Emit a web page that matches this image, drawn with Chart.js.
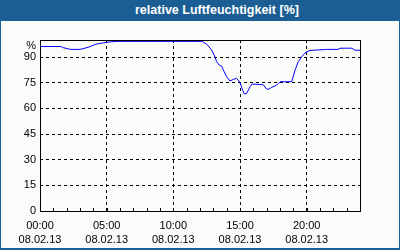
<!DOCTYPE html>
<html>
<head>
<meta charset="utf-8">
<script src="https://cdn.jsdelivr.net/npm/chart.js@4"></script>
<style>
  html, body { margin: 0; padding: 0; background: #ffffff; }
  #frame { position: absolute; left: 0; top: 0; width: 400px; height: 250px; background: #1b5e93; overflow: hidden; }
  #inner { position: absolute; left: 1px; top: 21px; width: 398px; height: 227px; background: #fafcfa; }
  #title { position: absolute; left: 135px; top: 3px; font: bold 12.5px "Liberation Sans", Arial, sans-serif; color: #ffffff; white-space: nowrap; line-height: 15px; }
  #c { position: absolute; left: 0; top: 0; }
</style>
</head>
<body>
<div id="frame">
  <div id="inner"></div>
  <div id="title">relative Luftfeuchtigkeit [%]</div>
  <canvas id="c" width="400" height="250"></canvas>
</div>
<script>
// time in hours since 00:00 on 08.02.13
const hours = [0, 1.58, 1.7, 2.3, 3.0, 3.6, 4.2, 4.95, 5.25, 5.85, 12.15, 12.5, 12.88, 13.13, 13.25, 13.45, 13.63, 13.75, 14.0, 14.25, 14.5, 14.75, 15.0, 15.2, 15.32, 15.5, 15.75, 15.9, 16.5, 16.75, 16.95, 17.12, 17.38, 17.75, 18.0, 18.88, 19.13, 19.37, 19.63, 19.88, 20.25, 21.5, 22.35, 22.5, 23.38, 23.63, 24.0];
const humidity = [96.2, 96.2, 95.6, 94.5, 94.5, 95.7, 97.6, 98.6, 98.9, 99.2, 99.2, 97.6, 94.1, 90.0, 87.3, 85.3, 84.7, 82.4, 78.5, 76.0, 77.0, 77.5, 75.2, 70.7, 68.4, 68.8, 72.6, 74.2, 74.0, 73.8, 71.7, 71.1, 72.3, 73.6, 75.6, 75.6, 82.4, 87.3, 90.2, 92.5, 93.9, 94.5, 94.5, 95.2, 95.2, 94.0, 94.0];

const xTickValues = [0, 5, 10, 15, 20];
const xTickTimes = ['00:00', '05:00', '10:00', '15:00', '20:00'];
const xTickDates = ['08.02.13', '08.02.13', '08.02.13', '08.02.13', '08.02.13'];
const yTickValues = [0, 15, 30, 45, 60, 75, 90, 100];
const yTickLabels = ['0', '15', '30', '45', '60', '75', '90', '%'];
const minorHours = [1,2,3,4,5,6,7,8,9,10,11,12,13,14,15,16,17,18,19,20,21,22,23];

const FONT = { family: '"Liberation Sans", Arial, sans-serif', size: 11, lineHeight: 1 };

const boxPlugin = {
  id: 'box',
  afterDraw(chart) {
    const ctx = chart.ctx, a = chart.chartArea, xs = chart.scales.x;
    ctx.save();
    ctx.strokeStyle = '#000000';
    ctx.lineWidth = 1;
    ctx.setLineDash([]);
    ctx.strokeRect(Math.round(a.left) + 0.5, Math.round(a.top) + 0.5, Math.round(a.right - a.left), Math.round(a.bottom - a.top));
    ctx.beginPath();
    minorHours.forEach(h => {
      const x = Math.round(xs.getPixelForValue(h)) + 0.5;
      ctx.moveTo(x, Math.round(a.bottom));
      ctx.lineTo(x, Math.round(a.bottom) - 3);
    });
    ctx.stroke();
    ctx.restore();
  }
};

new Chart(document.getElementById('c'), {
  type: 'line',
  data: {
    datasets: [{
      data: hours.map((h, i) => ({ x: h, y: humidity[i] })),
      borderColor: '#0000ff',
      borderWidth: 1,
      pointRadius: 0,
      tension: 0,
      fill: false
    }]
  },
  options: {
    responsive: false,
    animation: false,
    layout: { padding: { top: 40, right: 40, left: 0, bottom: 0 } },
    plugins: { legend: { display: false }, tooltip: { enabled: false }, title: { display: false } },
    scales: {
      x: {
        type: 'linear', min: 0, max: 24,
        afterBuildTicks: s => { s.ticks = xTickValues.map(v => ({ value: v })); },
        afterFit: s => { s.height = 39; },
        grid: {
          drawTicks: false,
          color: c => (c.tick && c.tick.value === 0) ? 'rgba(0,0,0,0)' : '#000000',
          lineWidth: 1
        },
        border: { display: false, dash: [3, 3] },
        ticks: {
          padding: 8,
          maxRotation: 0,
          autoSkip: false,
          color: '#000000',
          font: { family: FONT.family, size: 11, lineHeight: 1.3 },
          callback: (v, i) => [xTickTimes[i], xTickDates[i]]
        }
      },
      y: {
        type: 'linear', min: 0, max: 100,
        afterBuildTicks: s => { s.ticks = yTickValues.map(v => ({ value: v })); },
        afterFit: s => { s.width = 40; },
        grid: {
          drawTicks: false,
          color: c => (c.tick && (c.tick.value === 0 || c.tick.value === 100)) ? 'rgba(0,0,0,0)' : '#000000',
          lineWidth: 1
        },
        border: { display: false, dash: [3, 3] },
        ticks: {
          padding: 4,
          autoSkip: false,
          color: '#000000',
          font: FONT,
          callback: (v, i) => yTickLabels[i] === '%' ? ['', '%'] : yTickLabels[i]
        }
      }
    }
  },
  plugins: [boxPlugin]
});
</script>
</body>
</html>
